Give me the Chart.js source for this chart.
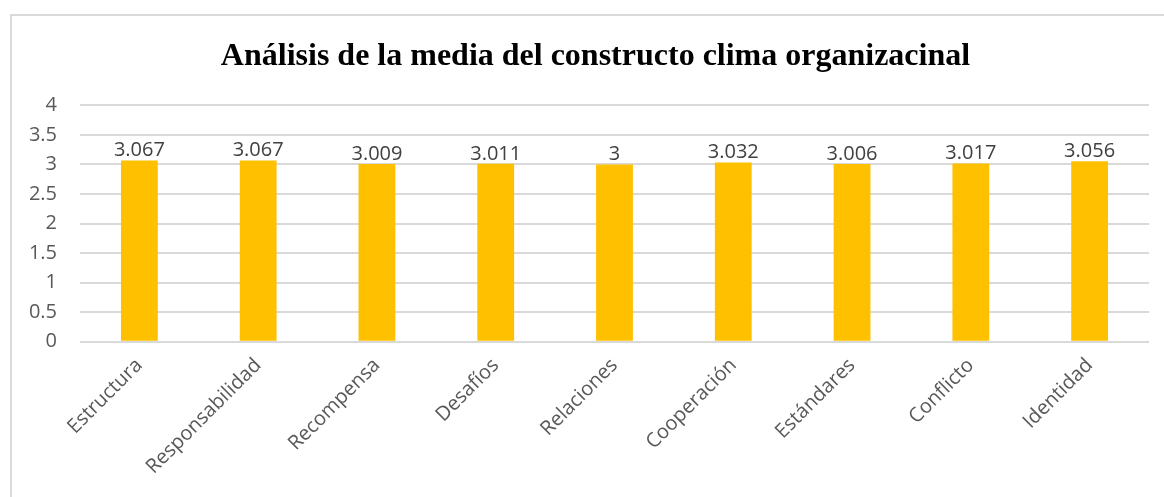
<!DOCTYPE html>
<html>
<head>
<meta charset="utf-8">
<script src="https://cdn.jsdelivr.net/npm/chart.js@4/dist/chart.umd.min.js"></script>
<style>
  html, body { margin: 0; padding: 0; background: #fff; }
  #wrap { position: relative; width: 1164px; height: 497px; overflow: hidden; }
  #frame { position: absolute; left: 10px; top: 14px; width: 1200px; height: 600px;
           border-left: 2px solid #d9d9d9; border-top: 2px solid #d9d9d9; box-sizing: border-box; }
  canvas { position: absolute; left: 0; top: 0; }
</style>
</head>
<body>
<div id="wrap">
  <div id="frame"></div>
  <canvas id="chart" width="1164" height="497"></canvas>
</div>
<script>
// datos del gráfico
const categorias = ['Estructura', 'Responsabilidad', 'Recompensa', 'Desafíos', 'Relaciones', 'Cooperación', 'Estándares', 'Conflicto', 'Identidad'];
const medias = [3.067, 3.067, 3.009, 3.011, 3, 3.032, 3.006, 3.017, 3.056];
const etiquetas = ['3.067', '3.067', '3.009', '3.011', '3', '3.032', '3.006', '3.017', '3.056'];
const tituloGrafico = 'Análisis de la media del constructo clima organizacinal';

const fuente = "'Open Sans', Lato, sans-serif";

// etiquetas de valor encima de cada barra
const valoresPlugin = {
    id: 'valores',
    afterLayout(chart) {
        // dejar que las etiquetas del eje Y salgan del ancho reducido
        chart.scales.y.left = 0;
    },
    afterDatasetsDraw(chart) {
        const ctx = chart.ctx;
        const meta = chart.getDatasetMeta(0);
        ctx.save();
        ctx.font = '20px ' + fuente;
        ctx.fillStyle = '#404040';
        ctx.textAlign = 'center';
        ctx.textBaseline = 'bottom';
        meta.data.forEach((bar, i) => {
            ctx.fillText(etiquetas[i], bar.x, bar.y);
        });
        ctx.restore();
    }
};

new Chart(document.getElementById('chart'), {
    type: 'bar',
    data: {
        labels: categorias,
        datasets: [{
            data: medias,
            backgroundColor: '#FFC000',
            categoryPercentage: 1,
            barPercentage: 0.31
        }]
    },
    options: {
        responsive: false,
        animation: false,
        layout: { padding: { left: 42, right: 15, top: 20, bottom: 14 } },
        plugins: {
            legend: { display: false },
            tooltip: { enabled: false },
            title: {
                display: true,
                text: tituloGrafico,
                color: '#000',
                font: { family: "'Liberation Serif', 'Times New Roman', serif", size: 32, weight: 'bold' },
                padding: { top: 18, bottom: 29 }
            }
        },
        scales: {
            x: {
                grid: { display: false },
                border: { display: false },
                ticks: {
                    color: '#595959',
                    font: { family: fuente, size: 20 },
                    maxRotation: 45,
                    minRotation: 45,
                    padding: 4
                }
            },
            y: {
                min: 0,
                max: 4,
                afterFit(scale) {
                    // el área del gráfico empieza en x = 80
                    scale.width = 38;
                },
                grid: { color: '#d9d9d9', lineWidth: 2, drawTicks: false },
                border: { display: false },
                ticks: {
                    stepSize: 0.5,
                    color: '#595959',
                    font: { family: fuente, size: 20 },
                    padding: 23,
                    callback: v => String(v)
                }
            }
        }
    },
    plugins: [valoresPlugin]
});
</script>
</body>
</html>
